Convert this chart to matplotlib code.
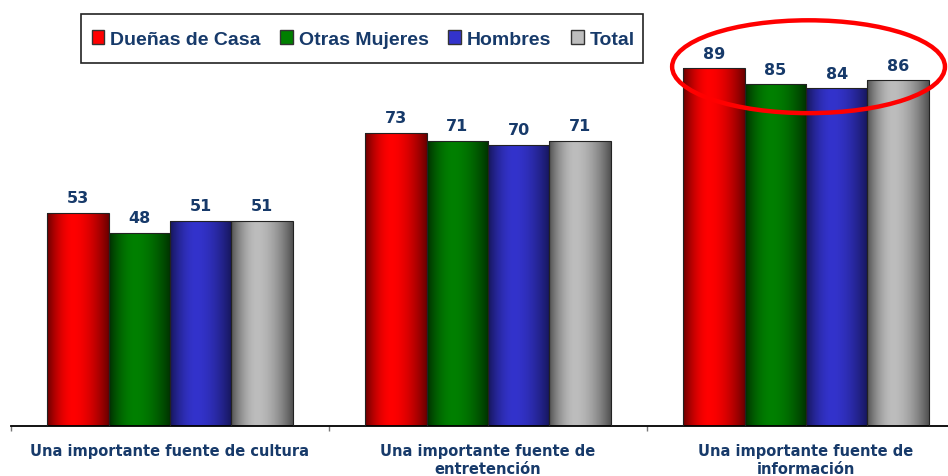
import numpy as np
import matplotlib
matplotlib.use("Agg")
import matplotlib.pyplot as plt
from matplotlib.patches import Ellipse, Rectangle
from matplotlib.colors import to_rgb

categories = ["Una importante fuente de cultura",
              "Una importante fuente de\nentretención",
              "Una importante fuente de\ninformación"]
series_names = ["Dueñas de Casa", "Otras Mujeres", "Hombres", "Total"]
duenas = [53, 73, 89]
otras = [48, 71, 85]
hombres = [51, 70, 84]
total = [51, 71, 86]
series_values = [duenas, otras, hombres, total]

bright = ["#FF0000", "#008000", "#3333CC", "#BDBDBD"]
dark = ["#6A0000", "#003000", "#16165A", "#505050"]
text_color = "#173A6A"

plt.rcParams['font.family'] = ['Liberation Sans', 'DejaVu Sans']

fig = plt.figure(figsize=(9.48, 4.77), dpi=100)
ax = fig.add_axes([11/948, 50/477, 954/948, 426/477])

bw = 0.193
x = np.arange(len(categories))

def profile(n=200):
    t = np.linspace(0, 1, n)
    peak = 0.42
    d = np.where(t < peak, (t - peak) / peak, (t - peak) / (1 - peak))
    return np.clip(1 - np.abs(d) ** 1.8, 0, 1)

prof = profile()
for i, vals in enumerate(series_values):
    c1 = np.array(to_rgb(dark[i]))
    c2 = np.array(to_rgb(bright[i]))
    grad = c1[None, :] + (c2 - c1)[None, :] * prof[:, None]
    grad = grad[None, :, :]
    for j, v in enumerate(vals):
        xc = x[j] + (i - 1.5) * bw
        bars = ax.bar(xc, v, width=bw, color='none', edgecolor='#222222',
                      linewidth=0.8, zorder=3)
        b = bars[0]
        im = ax.imshow(grad, extent=[xc - bw/2, xc + bw/2, 0, v],
                       aspect='auto', zorder=2, interpolation='bilinear')
        im.set_clip_path(b)
        ax.annotate(f"{v}", (xc, v), xytext=(0, 5.5), textcoords='offset points',
                    ha='center', va='bottom', fontsize=11.5, fontweight='bold',
                    color=text_color, family=['DejaVu Sans'])

ax.set_xlim(-0.5, 2.5)
ax.set_ylim(0, 106)

for s in ['left', 'right', 'top']:
    ax.spines[s].set_visible(False)
ax.spines['bottom'].set_linewidth(1.3)
ax.set_yticks([])
ax.set_xticks([-0.5, 0.5, 1.5, 2.5])
ax.set_xticklabels([])
ax.tick_params(axis='x', which='major', length=3.5, width=1.0, color='#777777')
ax.set_xticks(x, minor=True)
ax.set_xticklabels(categories, minor=True, fontsize=10.5, fontweight='bold',
                   color=text_color, linespacing=1.2, family=['DejaVu Sans'])
ax.tick_params(axis='x', which='minor', length=0, pad=12.5)

ell = Ellipse((2.008, 89.4), 0.858, 23.1, fill=False, edgecolor='#FF0000',
              linewidth=3.2, zorder=5, clip_on=False)
ax.add_patch(ell)

# legend box
box = Rectangle((81/948, 1 - 64/477), 562/948, 49/477, transform=fig.transFigure,
                facecolor='white', edgecolor='#222222', linewidth=1.2, zorder=1)
fig.patches.append(box)

handles = [Rectangle((0, 0), 1, 1, facecolor=bright[i], edgecolor='#333333',
                     linewidth=1.0) for i in range(4)]
leg = fig.legend(handles, series_names, loc='center left',
                 bbox_to_anchor=(91.5/948, 1 - 40/477), bbox_transform=fig.transFigure,
                 ncol=4, frameon=False,
                 prop={'weight': 'bold', 'size': 14}, handlelength=0.65,
                 handleheight=0.67, handletextpad=0.3, columnspacing=1.02,
                 borderpad=0, borderaxespad=0)
for t in leg.get_texts():
    t.set_color(text_color)

fig.savefig("out.png", dpi=100)
